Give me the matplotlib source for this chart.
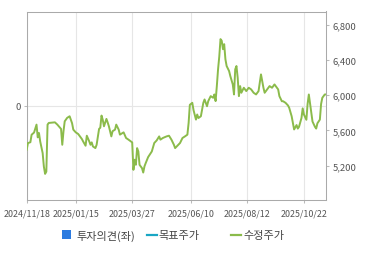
import numpy as np
import matplotlib
matplotlib.use("Agg")
import matplotlib.pyplot as plt
from matplotlib.patches import Rectangle
from matplotlib.lines import Line2D
from matplotlib.ticker import FuncFormatter

plt.rcParams['font.family'] = ['Noto Sans CJK KR', 'DejaVu Sans']

# trading-day index and adjusted price (수정주가)
day = [0, 1, 3, 4, 6, 8, 9, 10, 11, 13, 14, 15, 16, 17, 18, 23, 25, 28, 29, 30,
       31, 33, 35, 37, 38, 40, 42, 45, 46, 48, 49, 51, 52, 53, 54, 56, 57, 59, 60, 61,
       62, 63, 65, 66, 67, 69, 70, 72, 73, 75, 76, 79, 81, 83, 86, 87, 88, 89, 90, 91,
       92, 94, 95, 96, 97, 99, 102, 104, 106, 108, 109, 111, 114, 116, 118, 120, 121, 125, 127, 129,
       131, 132, 133, 135, 136, 138, 139, 140, 142, 144, 145, 147, 148, 150, 152, 153, 154, 155, 156, 157,
       158, 159, 160, 161, 162, 163, 165, 166, 168, 169, 170, 171, 172, 173, 174, 175, 177, 179, 181, 183,
       185, 187, 189, 191, 192, 193, 194, 195, 197, 198, 200, 202, 203, 205, 206, 208, 209, 211, 213, 214,
       216, 217, 218, 220, 221, 222, 224, 225, 226, 228, 229, 230, 232, 233, 235, 236, 237, 239, 240, 241,
       243, 244]
price = [5380, 5455, 5465, 5550, 5575, 5665, 5520, 5570, 5474, 5342, 5188, 5105, 5130, 5665, 5684, 5691, 5665, 5616, 5436, 5590,
         5703, 5742, 5760, 5680, 5608, 5577, 5558, 5501, 5474, 5425, 5539, 5474, 5436, 5463, 5417, 5398, 5436, 5616, 5630, 5768,
         5720, 5646, 5730, 5690, 5646, 5531, 5590, 5608, 5665, 5608, 5551, 5577, 5513, 5494, 5463, 5151, 5266, 5208, 5398, 5360,
         5208, 5170, 5120, 5190, 5227, 5296, 5360, 5456, 5486, 5531, 5494, 5513, 5531, 5539, 5494, 5436, 5398, 5456, 5513, 5531,
         5551, 5684, 5890, 5913, 5830, 5722, 5780, 5740, 5760, 5913, 5951, 5874, 5932, 5989, 5970, 6008, 5932, 6103, 6294, 6440,
         6637, 6618, 6522, 6580, 6408, 6331, 6274, 6217, 6122, 6008, 6294, 6331, 6198, 5989, 6103, 6027, 6084, 6046, 6084, 6065,
         6027, 6008, 6046, 6236, 6160, 6084, 6027, 6046, 6084, 6103, 6084, 6122, 6103, 6065, 5989, 5931, 5931, 5913, 5883, 5856,
         5760, 5684, 5610, 5660, 5620, 5640, 5740, 5850, 5780, 5720, 5900, 6008, 5800, 5700, 5640, 5620, 5680, 5722, 5900, 5970,
         6008, 6008]

tick_days = [0, 40, 86, 134, 180, 226]
tick_labels = ['2024/11/18', '2025/01/15', '2025/03/27', '2025/06/10', '2025/08/12', '2025/10/22']
price_ticks = [5200, 5600, 6000, 6400, 6800]
legend_labels = ['투자의견(좌)', '목표주가', '수정주가']

W, H = 370, 255
fig = plt.figure(figsize=(W / 100, H / 100), dpi=100)
ax = fig.add_axes([26.7 / W, 1 - 201 / H, (326 - 26.7) / W, (201 - 12.5) / H])
ax2 = ax.twinx()

green = '#8bbb4b'
ax2.plot(day, price, color=green, lw=1.4, solid_joinstyle='round')

ax.set_xlim(0, 244)
ax.set_ylim(-1, 1)
ax.set_yticks([0])
ax.set_xticks(tick_days)
ax.set_xticklabels(tick_labels)
ax.grid(True, color='#e6e6e6', lw=0.8)
ax.set_axisbelow(True)

ax2.set_ylim(4808, 6951)
ax2.set_yticks(price_ticks)
ax2.yaxis.set_major_formatter(FuncFormatter(lambda v, p: f'{int(v):,}'))

for a in (ax, ax2):
    for s in a.spines.values():
        s.set_color('#aaaaaa')
        s.set_linewidth(0.75)
    a.tick_params(colors='#bbbbbb', labelcolor='#555555', labelsize=6.8, length=2.5, width=0.75, pad=2)
ax.tick_params(axis='x', pad=3.5, labelsize=6.4)
# avoid drawing the shared spines twice
for side in ('left', 'top', 'bottom'):
    ax2.spines[side].set_visible(False)
ax.spines['right'].set_visible(False)

# legend drawn along the bottom
fig.add_artist(Rectangle((61.7 / W, 1 - 240 / H), 9 / W, 9 / H, transform=fig.transFigure,
                         color='#2c7be0', lw=0))
fig.text(76 / W, 1 - 236 / H, legend_labels[0], fontsize=8, color='#444444', va='center')
fig.add_artist(Line2D([146.5 / W, 156.5 / W], [1 - 236 / H] * 2, transform=fig.transFigure,
                      color='#19a6c4', lw=1.6))
fig.text(158 / W, 1 - 236 / H, legend_labels[1], fontsize=8, color='#444444', va='center')
fig.add_artist(Line2D([230.5 / W, 241 / W], [1 - 236 / H] * 2, transform=fig.transFigure,
                      color=green, lw=1.6))
fig.text(243 / W, 1 - 236 / H, legend_labels[2], fontsize=8, color='#444444', va='center')

fig.savefig('out.png', dpi=100)
